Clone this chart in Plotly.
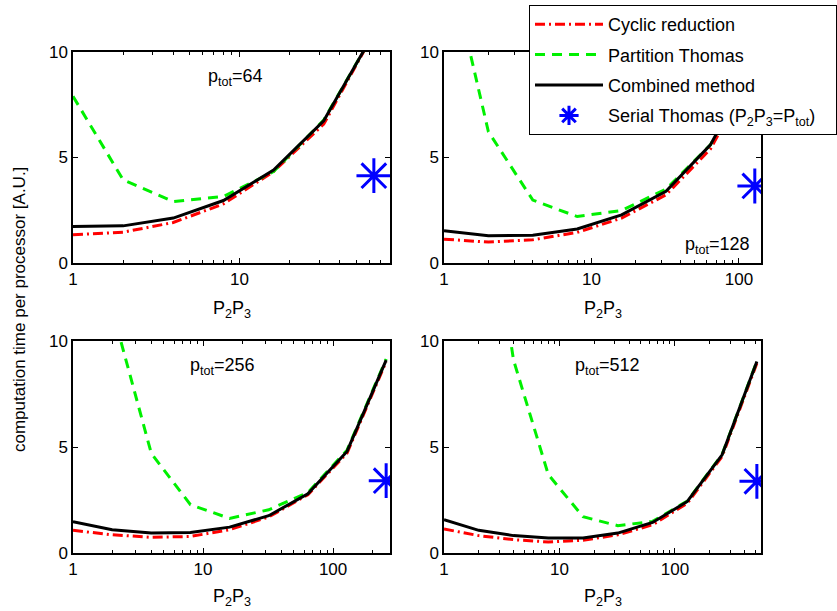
import math
import plotly.graph_objects as go

# ---- data ----
x64 = [1, 2, 4, 8, 16, 32, 64]
cyc64 = [1.34, 1.46, 1.92, 2.80, 4.33, 6.58, 10.9]
par64 = [7.9, 3.94, 2.91, 3.15, 4.33, 6.77, 10.9]
com64 = [1.73, 1.76, 2.13, 2.96, 4.41, 6.74, 10.9]
ser64 = 4.14

x128 = [1, 2, 4, 8, 16, 32, 64, 128]
cyc128 = [1.13, 0.99, 1.10, 1.45, 2.13, 3.23, 5.4, 9.3]
par128 = [15.3, 6.22, 2.98, 2.2, 2.49, 3.5, 5.6, 9.5]
com128 = [1.53, 1.29, 1.32, 1.61, 2.28, 3.4, 5.6, 9.5]
ser128 = 3.65

x256 = [1, 2, 4, 8, 16, 32, 64, 128, 256]
cyc256 = [1.07, 0.86, 0.74, 0.78, 1.10, 1.70, 2.75, 4.71, 9.03]
par256 = [25, 11.5, 4.7, 2.28, 1.63, 2.04, 2.85, 4.85, 9.15]
com256 = [1.48, 1.10, 0.94, 0.97, 1.22, 1.76, 2.79, 4.79, 9.1]
ser256 = 3.41

x512 = [1, 2, 4, 8, 16, 32, 64, 128, 256, 512]
cyc512 = [1.13, 0.82, 0.63, 0.52, 0.60, 0.86, 1.33, 2.35, 4.55, 8.95]
par512 = [40, 19.9, 9.1, 3.7, 1.71, 1.29, 1.49, 2.45, 4.65, 9.05]
com512 = [1.57, 1.07, 0.82, 0.71, 0.71, 0.94, 1.44, 2.43, 4.63, 9.03]
ser512 = 3.38

ptot_labels = ["64", "128", "256", "512"]
xmax = [80, 141, 274, 556]

series_names = ["Cyclic reduction", "Partition Thomas", "Combined method",
                "Serial Thomas (P<sub>2</sub>P<sub>3</sub>=P<sub>tot</sub>)"
                "&nbsp;&nbsp;&nbsp;"]

panels = [
    (x64, cyc64, par64, com64, ser64),
    (x128, cyc128, par128, com128, ser128),
    (x256, cyc256, par256, com256, ser256),
    (x512, cyc512, par512, com512, ser512),
]

W, H = 837, 611
# pixel boxes (left, right, top, bottom)
boxes = [(73, 390, 52, 263), (444, 761, 52, 263),
         (73, 390, 341, 553), (444, 761, 341, 553)]

FONT = "Liberation Sans, Arial, Helvetica, sans-serif"
RED, GREEN, BLACK, BLUE = "#ff0000", "#00f000", "#000000", "#0000ff"

fig = go.Figure()

for i, (xs, cyc, par, com, ser) in enumerate(panels):
    ax = "" if i == 0 else str(i + 1)
    xa, ya = "x" + ax, "y" + ax
    first = (i == 0)
    fig.add_trace(go.Scatter(x=xs, y=cyc, mode="lines", name=series_names[0],
                             line=dict(color=RED, width=3, dash="10px,4px,2px,4px"),
                             xaxis=xa, yaxis=ya, showlegend=first, legendgroup="a"))
    fig.add_trace(go.Scatter(x=xs, y=par, mode="lines", name=series_names[1],
                             line=dict(color=GREEN, width=3, dash="10px,7px"),
                             xaxis=xa, yaxis=ya, showlegend=first, legendgroup="b"))
    fig.add_trace(go.Scatter(x=xs, y=com, mode="lines", name=series_names[2],
                             line=dict(color=BLACK, width=3),
                             xaxis=xa, yaxis=ya, showlegend=first, legendgroup="c"))
    fig.add_trace(go.Scatter(x=[xs[-1]], y=[ser], mode="markers", name=series_names[3],
                             marker=dict(symbol="asterisk-open", size=29, color=BLUE,
                                         line=dict(color=BLUE, width=3)),
                             xaxis=xa, yaxis=ya, showlegend=first, legendgroup="d"))

    l, r, t, b = boxes[i]
    major = [v for v in [1, 10, 100] if v <= xmax[i]]
    minor = [m * d for d in [1, 10, 100] for m in range(2, 10) if m * d < xmax[i]]
    xkey = "xaxis" + ax
    ykey = "yaxis" + ax
    fig.layout[xkey] = dict(
        type="log", range=[0, math.log10(xmax[i])],
        domain=[l / W, r / W], anchor=ya, automargin=False,
        tickvals=major, ticktext=[str(v) for v in major],
        ticks="inside", ticklen=5, tickcolor="black", tickwidth=1,
        showline=True, linecolor="black", linewidth=1.5, mirror="ticks",
        showgrid=False, zeroline=False,
        minor=dict(tickvals=minor, ticks="inside", ticklen=3, tickcolor="black",
                   showgrid=False),
        tickfont=dict(family=FONT, size=17, color="black"),
        fixedrange=True,
    )
    fig.layout[ykey] = dict(
        range=[0, 10], domain=[1 - b / H, 1 - t / H], anchor=xa, automargin=False,
        tickvals=[0, 5, 10], ticks="inside", ticklen=5, tickcolor="black",
        showline=True, linecolor="black", linewidth=1.5, mirror="ticks",
        showgrid=False, zeroline=False,
        tickfont=dict(family=FONT, size=17, color="black"),
        fixedrange=True,
    )

annotations = []
# p_tot labels
ptot_pos = [(235.5, 77), (717, 245.5), (222, 366.5), (607, 366.5)]
for (px, py), lab in zip(ptot_pos, ptot_labels):
    annotations.append(dict(text="p<sub>tot</sub>=" + lab, x=px / W, y=1 - py / H,
                            xref="paper", yref="paper", showarrow=False,
                            xanchor="center", yanchor="middle",
                            font=dict(family=FONT, size=18, color="black")))
# x axis titles
for cx, ty in [(231.5, 296), (602.5, 296), (231.5, 584), (602.5, 584)]:
    annotations.append(dict(text="P<sub>2</sub>P<sub>3</sub>", x=cx / W, y=1 - ty / H,
                            xref="paper", yref="paper", showarrow=False,
                            xanchor="center", yanchor="top",
                            font=dict(family=FONT, size=18, color="black")))
# y axis title
annotations.append(dict(text="computation time per processor [A.U.]",
                        x=19 / W, y=1 - 310 / H, xref="paper", yref="paper",
                        showarrow=False, textangle=-90, xanchor="center", yanchor="middle",
                        font=dict(family=FONT, size=17, color="black")))

fig.update_layout(
    width=W, height=H,
    margin=dict(l=0, r=0, t=0, b=0),
    paper_bgcolor="white", plot_bgcolor="white",
    annotations=annotations,
    showlegend=True,
    legend=dict(x=529 / W, y=1 - 5 / H, xanchor="left", yanchor="top",
                bgcolor="white", bordercolor="black", borderwidth=1,
                font=dict(family=FONT, size=18, color="black"),
                tracegroupgap=4, itemwidth=68, traceorder="grouped"),
)

fig.write_html("out.html")
